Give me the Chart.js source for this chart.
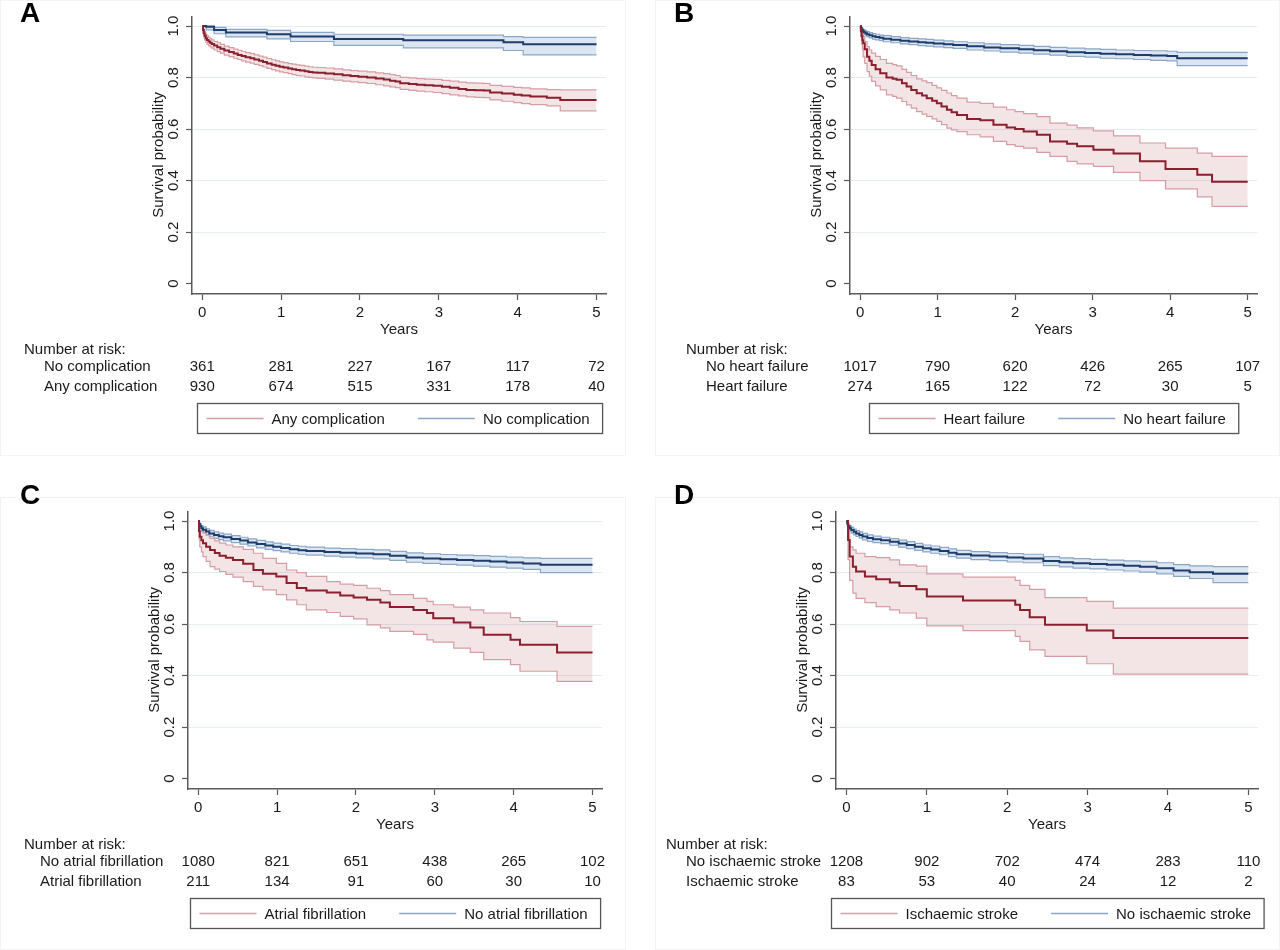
<!DOCTYPE html>
<html><head><meta charset="utf-8">
<script src="https://cdn.jsdelivr.net/npm/chart.js@4.4.0/dist/chart.umd.min.js"></script>
<style>
body{margin:0;background:#fff;width:1280px;height:950px;position:relative;overflow:hidden;font-family:"Liberation Sans",Arial,sans-serif}
.panel{position:absolute;width:640px;height:455px}
.frame{position:absolute;border:1px solid #f3f3f3;box-sizing:border-box}
.letter{position:absolute;font:bold 28px/28px "Liberation Sans",Arial,sans-serif;color:#000}
</style></head><body>
<div class="frame" style="left:0;top:0;width:626px;height:456px"></div>
<div class="frame" style="left:655px;top:0;width:625px;height:456px"></div>
<div class="frame" style="left:0;top:497px;width:626px;height:453px"></div>
<div class="frame" style="left:655px;top:497px;width:625px;height:453px"></div>
<div class="panel" style="left:0;top:0"><canvas id="cA"></canvas></div>
<div class="panel" style="left:640px;top:0"><canvas id="cB"></canvas></div>
<div class="panel" style="left:0;top:495px"><canvas id="cC"></canvas></div>
<div class="panel" style="left:640px;top:495px"><canvas id="cD"></canvas></div>
<div class="letter" style="left:20px;top:-1px">A</div>
<div class="letter" style="left:674px;top:-1px">B</div>
<div class="letter" style="left:20px;top:481px">C</div>
<div class="letter" style="left:674px;top:481px">D</div>
<script>
// ---------- shared ticks ----------
const years = [0, 1, 2, 3, 4, 5];
const yTicks = [0, 0.2, 0.4, 0.6, 0.8, 1.0];
const yTickLabels = ['0', '0.2', '0.4', '0.6', '0.8', '1.0'];

// ---------- Panel A: complications ----------
const A_none_t  = [0, 0.05, 0.15, 0.30, 0.82, 1.12, 1.67, 2.55, 3.82, 4.07, 5];
const A_none_s  = [1, 0.997, 0.985, 0.975, 0.968, 0.959, 0.950, 0.945, 0.937, 0.929, 0.929];
const A_none_hi = [1, 1.0, 0.995, 0.987, 0.983, 0.975, 0.968, 0.965, 0.959, 0.956, 0.956];
const A_none_lo = [1, 0.985, 0.970, 0.958, 0.950, 0.940, 0.925, 0.915, 0.905, 0.888, 0.888];
const A_any_t  = [0, 0.01, 0.02, 0.03, 0.045, 0.06, 0.08, 0.10, 0.12, 0.15,
                  0.19, 0.23, 0.28, 0.34, 0.40, 0.45, 0.50, 0.55, 0.61, 0.66,
                  0.72, 0.77, 0.82, 0.88, 0.93, 0.98, 1.03, 1.09, 1.14, 1.19,
                  1.24, 1.30, 1.35, 1.40, 1.46, 1.56, 1.67, 1.78, 1.88, 1.98,
                  2.09, 2.20, 2.30, 2.38, 2.45, 2.51, 2.62, 2.72, 2.82, 2.93,
                  3.04, 3.14, 3.25, 3.35, 3.46, 3.57, 3.65, 3.80, 3.95, 4.05,
                  4.16, 4.37, 4.54, 5];
const A_any_s  = [1, 0.985, 0.972, 0.962, 0.953, 0.946, 0.940, 0.935, 0.930, 0.924,
                  0.918, 0.912, 0.905, 0.899, 0.893, 0.888, 0.884, 0.879, 0.875, 0.870,
                  0.865, 0.860, 0.855, 0.850, 0.846, 0.842, 0.839, 0.835, 0.832, 0.829,
                  0.827, 0.824, 0.822, 0.820, 0.819, 0.816, 0.813, 0.809, 0.806, 0.803,
                  0.800, 0.796, 0.792, 0.788, 0.785, 0.778, 0.775, 0.772, 0.770, 0.768,
                  0.764, 0.760, 0.756, 0.752, 0.751, 0.750, 0.742, 0.738, 0.733, 0.730,
                  0.726, 0.722, 0.713, 0.713];
const A_any_hi = [1, 0.997, 0.987, 0.978, 0.969, 0.962, 0.956, 0.951, 0.946, 0.940,
                  0.935, 0.929, 0.922, 0.916, 0.910, 0.906, 0.902, 0.897, 0.893, 0.888,
                  0.883, 0.879, 0.874, 0.869, 0.865, 0.861, 0.858, 0.854, 0.852, 0.849,
                  0.847, 0.844, 0.842, 0.840, 0.839, 0.837, 0.834, 0.830, 0.827, 0.825,
                  0.822, 0.818, 0.815, 0.811, 0.808, 0.801, 0.799, 0.796, 0.794, 0.793,
                  0.789, 0.786, 0.782, 0.779, 0.778, 0.777, 0.770, 0.766, 0.762, 0.760,
                  0.756, 0.753, 0.752, 0.752];
const A_any_lo = [1, 0.973, 0.957, 0.946, 0.937, 0.930, 0.924, 0.919, 0.914, 0.907,
                  0.901, 0.895, 0.887, 0.881, 0.875, 0.870, 0.865, 0.860, 0.856, 0.851,
                  0.846, 0.841, 0.836, 0.831, 0.826, 0.822, 0.819, 0.815, 0.811, 0.808,
                  0.806, 0.803, 0.801, 0.799, 0.797, 0.794, 0.790, 0.786, 0.783, 0.780,
                  0.777, 0.772, 0.768, 0.764, 0.761, 0.754, 0.750, 0.747, 0.745, 0.742,
                  0.738, 0.733, 0.729, 0.725, 0.723, 0.722, 0.713, 0.708, 0.703, 0.699,
                  0.695, 0.690, 0.671, 0.671];
const A_risk_none = [361, 281, 227, 167, 117, 72];
const A_risk_any  = [930, 674, 515, 331, 178, 40];

// ---------- Panel B: heart failure ----------
const B_no_t  = [0, 0.01, 0.02, 0.035, 0.05, 0.07, 0.09, 0.12, 0.16, 0.2,
                 0.25, 0.3, 0.4, 0.52, 0.63, 0.75, 0.85, 0.95, 1.08, 1.2,
                 1.38, 1.6, 1.81, 2.05, 2.24, 2.45, 2.67, 2.9, 3.1, 3.3,
                 3.53, 3.75, 3.96, 4.09, 5];
const B_no_s  = [1, 0.992, 0.986, 0.980, 0.976, 0.972, 0.968, 0.964, 0.960, 0.957,
                 0.954, 0.951, 0.947, 0.943, 0.940, 0.937, 0.935, 0.932, 0.929, 0.926,
                 0.921, 0.917, 0.914, 0.910, 0.906, 0.902, 0.898, 0.895, 0.892, 0.890,
                 0.888, 0.886, 0.884, 0.875, 0.875];
const B_no_hi = [1, 0.997, 0.993, 0.988, 0.985, 0.981, 0.978, 0.974, 0.971, 0.968,
                 0.965, 0.963, 0.959, 0.955, 0.952, 0.950, 0.948, 0.945, 0.942, 0.939,
                 0.935, 0.931, 0.928, 0.925, 0.921, 0.917, 0.914, 0.911, 0.909, 0.907,
                 0.905, 0.904, 0.902, 0.898, 0.898];
const B_no_lo = [1, 0.987, 0.979, 0.972, 0.967, 0.963, 0.958, 0.954, 0.949, 0.946,
                 0.943, 0.939, 0.935, 0.931, 0.928, 0.924, 0.922, 0.919, 0.916, 0.913,
                 0.907, 0.903, 0.899, 0.895, 0.891, 0.887, 0.882, 0.879, 0.875, 0.873,
                 0.870, 0.867, 0.865, 0.846, 0.846];
const B_hf_t  = [0, 0.01, 0.02, 0.03, 0.04, 0.06, 0.09, 0.12, 0.15, 0.2,
                 0.26, 0.34, 0.42, 0.47, 0.54, 0.6, 0.66, 0.73, 0.8, 0.86,
                 0.93, 0.99, 1.05, 1.12, 1.18, 1.25, 1.38, 1.55, 1.72, 1.89,
                 2.0, 2.11, 2.28, 2.45, 2.67, 2.8, 3.01, 3.27, 3.61, 3.94,
                 4.35, 4.54, 5];
const B_hf_s  = [1, 0.98, 0.96, 0.945, 0.933, 0.91, 0.881, 0.865, 0.849, 0.832,
                 0.817, 0.80, 0.795, 0.791, 0.778, 0.765, 0.752, 0.739, 0.73, 0.72,
                 0.71, 0.70, 0.688, 0.675, 0.665, 0.655, 0.639, 0.634, 0.617, 0.606,
                 0.60, 0.591, 0.578, 0.552, 0.543, 0.533, 0.52, 0.505, 0.475, 0.445,
                 0.423, 0.396, 0.396];
const B_hf_hi = [1, 0.995, 0.985, 0.972, 0.96, 0.94, 0.92, 0.907, 0.895, 0.882,
                 0.87, 0.855, 0.85, 0.845, 0.832, 0.82, 0.808, 0.795, 0.787, 0.78,
                 0.77, 0.76, 0.75, 0.74, 0.73, 0.72, 0.705, 0.70, 0.685, 0.675,
                 0.668, 0.66, 0.648, 0.623, 0.615, 0.605, 0.593, 0.574, 0.546, 0.526,
                 0.507, 0.494, 0.494];
const B_hf_lo = [1, 0.962, 0.93, 0.91, 0.88, 0.855, 0.823, 0.805, 0.785, 0.768,
                 0.752, 0.733, 0.727, 0.72, 0.707, 0.694, 0.681, 0.668, 0.658, 0.649,
                 0.64, 0.63, 0.617, 0.604, 0.597, 0.59, 0.578, 0.57, 0.552, 0.54,
                 0.533, 0.526, 0.51, 0.494, 0.475, 0.465, 0.455, 0.432, 0.40, 0.368,
                 0.337, 0.30, 0.30];
const B_risk_no = [1017, 790, 620, 426, 265, 107];
const B_risk_hf = [274, 165, 122, 72, 30, 5];

// ---------- Panel C: atrial fibrillation ----------
const C_no_t  = [0, 0.01, 0.02, 0.04, 0.06, 0.1, 0.14, 0.2, 0.26, 0.32,
                 0.42, 0.53, 0.63, 0.74, 0.85, 0.95, 1.05, 1.16, 1.27, 1.37,
                 1.6, 1.8, 2.0, 2.22, 2.43, 2.64, 2.85, 3.07, 3.28, 3.49,
                 3.7, 3.91, 4.12, 4.34, 5];
const C_no_s  = [1, 0.988, 0.98, 0.972, 0.966, 0.959, 0.952, 0.946, 0.941, 0.937,
                 0.930, 0.924, 0.917, 0.911, 0.905, 0.90, 0.895, 0.89, 0.887, 0.884,
                 0.880, 0.877, 0.874, 0.871, 0.865, 0.858, 0.855, 0.852, 0.849, 0.846,
                 0.843, 0.839, 0.835, 0.830, 0.830];
const C_no_hi = [1, 0.994, 0.989, 0.982, 0.977, 0.970, 0.964, 0.958, 0.953, 0.949,
                 0.943, 0.937, 0.931, 0.925, 0.919, 0.914, 0.910, 0.905, 0.902, 0.899,
                 0.895, 0.893, 0.890, 0.888, 0.882, 0.876, 0.873, 0.870, 0.868, 0.866,
                 0.863, 0.860, 0.857, 0.855, 0.855];
const C_no_lo = [1, 0.981, 0.971, 0.961, 0.954, 0.947, 0.939, 0.933, 0.928, 0.923,
                 0.916, 0.910, 0.903, 0.896, 0.890, 0.885, 0.880, 0.875, 0.871, 0.868,
                 0.864, 0.860, 0.857, 0.853, 0.847, 0.840, 0.836, 0.832, 0.829, 0.825,
                 0.821, 0.817, 0.812, 0.800, 0.800];
const C_af_t  = [0, 0.01, 0.02, 0.04, 0.06, 0.1, 0.15, 0.21, 0.27, 0.35,
                 0.44, 0.57, 0.7, 0.82, 0.99, 1.12, 1.25, 1.37, 1.63, 1.8,
                 1.97, 2.14, 2.31, 2.43, 2.73, 2.9, 2.98, 3.24, 3.45, 3.62,
                 3.96, 4.08, 4.55, 5];
const C_af_s  = [1, 0.96, 0.939, 0.925, 0.914, 0.9, 0.888, 0.876, 0.865, 0.857,
                 0.849, 0.834, 0.81, 0.795, 0.785, 0.759, 0.74, 0.73, 0.723, 0.711,
                 0.703, 0.694, 0.684, 0.666, 0.655, 0.643, 0.623, 0.606, 0.587, 0.559,
                 0.539, 0.52, 0.49, 0.49];
const C_af_hi = [1, 0.988, 0.978, 0.968, 0.959, 0.945, 0.933, 0.923, 0.914, 0.907,
                 0.90, 0.89, 0.875, 0.855, 0.836, 0.81, 0.80, 0.785, 0.765, 0.755,
                 0.75, 0.739, 0.73, 0.714, 0.70, 0.688, 0.675, 0.666, 0.655, 0.643,
                 0.625, 0.61, 0.591, 0.591];
const C_af_lo = [1, 0.93, 0.90, 0.88, 0.862, 0.843, 0.823, 0.813, 0.804, 0.793,
                 0.782, 0.765, 0.746, 0.733, 0.714, 0.694, 0.675, 0.655, 0.645, 0.63,
                 0.62, 0.597, 0.585, 0.572, 0.56, 0.539, 0.53, 0.507, 0.49, 0.462,
                 0.443, 0.417, 0.378, 0.378];
const C_risk_no = [1080, 821, 651, 438, 265, 102];
const C_risk_af = [211, 134, 91, 60, 30, 10];

// ---------- Panel D: ischaemic stroke ----------
const D_no_t  = [0, 0.01, 0.02, 0.04, 0.06, 0.09, 0.12, 0.16, 0.2, 0.26,
                 0.33, 0.43, 0.54, 0.65, 0.75, 0.85, 0.95, 1.05, 1.16, 1.27,
                 1.37, 1.55, 1.78, 2.0, 2.2, 2.45, 2.65, 2.82, 3.03, 3.24,
                 3.45, 3.65, 3.86, 4.07, 4.27, 4.56, 5];
const D_no_s  = [1, 0.99, 0.98, 0.972, 0.965, 0.958, 0.952, 0.946, 0.94, 0.934,
                 0.929, 0.925, 0.92, 0.913, 0.907, 0.90, 0.894, 0.889, 0.884, 0.877,
                 0.871, 0.866, 0.862, 0.858, 0.855, 0.845, 0.840, 0.836, 0.833, 0.830,
                 0.826, 0.823, 0.817, 0.808, 0.801, 0.795, 0.795];
const D_no_hi = [1, 0.995, 0.988, 0.982, 0.976, 0.969, 0.963, 0.958, 0.952, 0.946,
                 0.941, 0.937, 0.932, 0.926, 0.920, 0.913, 0.907, 0.903, 0.898, 0.892,
                 0.886, 0.881, 0.877, 0.874, 0.871, 0.862, 0.857, 0.854, 0.851, 0.848,
                 0.845, 0.843, 0.838, 0.831, 0.826, 0.823, 0.823];
const D_no_lo = [1, 0.984, 0.972, 0.962, 0.953, 0.946, 0.940, 0.934, 0.927, 0.921,
                 0.916, 0.912, 0.906, 0.899, 0.893, 0.886, 0.880, 0.875, 0.869, 0.862,
                 0.856, 0.850, 0.846, 0.841, 0.838, 0.827, 0.822, 0.817, 0.814, 0.810,
                 0.806, 0.802, 0.795, 0.785, 0.777, 0.761, 0.761];
const D_is_t  = [0, 0.02, 0.04, 0.08, 0.12, 0.23, 0.37, 0.54, 0.66, 0.87, 1.0, 1.45, 2.1, 2.16, 2.28, 2.47, 2.99, 3.32, 5];
const D_is_s  = [1, 0.926, 0.862, 0.823, 0.804, 0.785, 0.774, 0.761, 0.748, 0.735, 0.707, 0.692, 0.675, 0.655, 0.627, 0.597, 0.575, 0.546, 0.546];
const D_is_hi = [1, 0.97, 0.90, 0.888, 0.875, 0.862, 0.858, 0.849, 0.83, 0.825, 0.795, 0.782, 0.77, 0.75, 0.735, 0.703, 0.688, 0.662, 0.662];
const D_is_lo = [1, 0.85, 0.77, 0.72, 0.70, 0.683, 0.668, 0.655, 0.643, 0.623, 0.593, 0.575, 0.552, 0.533, 0.50, 0.475, 0.446, 0.406, 0.406];
const D_risk_no = [1208, 902, 702, 474, 283, 110];
const D_risk_is = [83, 53, 40, 24, 12, 2];

// ---------- styles ----------
const FONT = '"Liberation Sans", Arial, Helvetica, sans-serif';
const TXT = '#1a1a1a';
const AXIS = '#5a5a5a';
const RED = '#8b1f2e', RED_CI = '#d59ea4', RED_FILL = 'rgba(196,120,128,0.20)';
const BLUE = '#1f3d6b', BLUE_CI = '#8ba7c5', BLUE_FILL = 'rgba(120,160,205,0.26)';

const pts = (t, v) => t.map((x, i) => ({ x: x, y: v[i] }));

const kmPlugin = {
  id: 'km',
  afterDraw(chart, args, o) {
    const ctx = chart.ctx, xs = chart.scales.x, ys = chart.scales.y;
    const axisX = chart.chartArea.left;
    ctx.save();
    ctx.fillStyle = TXT;
    ctx.font = '15px ' + FONT;
    ctx.textAlign = 'center';
    ctx.textBaseline = 'middle';
    yTicks.forEach((v, i) => {
      ctx.save();
      ctx.translate(axisX - 18, ys.getPixelForValue(v));
      ctx.rotate(-Math.PI / 2);
      ctx.fillText(yTickLabels[i], 0, 0);
      ctx.restore();
    });
    ctx.save();
    ctx.translate(axisX - 33, ys.getPixelForValue(0.5));
    ctx.rotate(-Math.PI / 2);
    ctx.fillText('Survival probability', 0, 0);
    ctx.restore();
    // risk table
    ctx.textAlign = 'left';
    ctx.fillText('Number at risk:', o.narX, 349.5);
    o.rows.forEach((r, ri) => {
      const y = 366.5 + ri * 20;
      ctx.textAlign = 'left';
      ctx.fillText(r.label, o.labelX, y);
      ctx.textAlign = 'center';
      r.values.forEach((v, i) => ctx.fillText(String(v), xs.getPixelForValue(years[i]), y));
    });
    // legend
    const w1 = ctx.measureText(o.legRed).width, w2 = ctx.measureText(o.legBlue).width;
    const padL = 9, samp = 57, gap = 8, colGap = 33, padR = 13;
    const W = padL + samp + gap + w1 + colGap + samp + gap + w2 + padR;
    const cx = (xs.getPixelForValue(0) + xs.getPixelForValue(5)) / 2;
    const bx = Math.round(cx - W / 2) + 0.5, by = 403.5, bh = 30;
    ctx.strokeStyle = '#555';
    ctx.lineWidth = 1.3;
    ctx.strokeRect(bx, by, W, bh);
    const ly = by + bh / 2;
    let x = bx + padL;
    ctx.lineWidth = 1.6;
    ctx.strokeStyle = RED_CI;
    ctx.beginPath(); ctx.moveTo(x, ly); ctx.lineTo(x + samp, ly); ctx.stroke();
    x += samp + gap;
    ctx.textAlign = 'left';
    ctx.fillText(o.legRed, x, ly + 1.5);
    x += w1 + colGap;
    ctx.strokeStyle = BLUE_CI;
    ctx.beginPath(); ctx.moveTo(x, ly); ctx.lineTo(x + samp, ly); ctx.stroke();
    x += samp + gap;
    ctx.fillText(o.legBlue, x, ly + 1.5);
    ctx.restore();
  }
};

function makeChart(id, p) {
  const ds = [
    { data: pts(p.red.t, p.red.s), borderColor: RED, borderWidth: 2, fill: false },
    { data: pts(p.blue.t, p.blue.s), borderColor: BLUE, borderWidth: 2, fill: false },
    { data: pts(p.red.t, p.red.hi), borderColor: RED_CI, borderWidth: 1.2, fill: false },
    { data: pts(p.red.t, p.red.lo), borderColor: RED_CI, borderWidth: 1.2, fill: '-1', backgroundColor: RED_FILL },
    { data: pts(p.blue.t, p.blue.hi), borderColor: BLUE_CI, borderWidth: 1.2, fill: false },
    { data: pts(p.blue.t, p.blue.lo), borderColor: BLUE_CI, borderWidth: 1.2, fill: '-1', backgroundColor: BLUE_FILL }
  ].map(d => Object.assign(d, { stepped: true, pointRadius: 0, tension: 0 }));
  return new Chart(document.getElementById(id), {
    type: 'line',
    data: { datasets: ds },
    options: {
      responsive: true, maintainAspectRatio: false, animation: false,
      events: [],
      layout: { padding: { left: p.axisX - 40, right: 640 - p.axisEnd, top: 17, bottom: 455 - 294 - 44 } },
      plugins: {
        legend: { display: false }, tooltip: { enabled: false },
        km: { narX: p.narX, labelX: p.labelX, rows: p.rows, legRed: p.legRed, legBlue: p.legBlue }
      },
      scales: {
        x: {
          type: 'linear', min: -0.13, max: 5.12,
          afterBuildTicks: s => { s.ticks = years.map(v => ({ value: v })); },
          afterFit: s => { s.height = 44; },
          border: { display: true, color: AXIS, width: 1.5 },
          grid: { drawOnChartArea: false, drawTicks: true, tickLength: 6, tickColor: AXIS, tickWidth: 1.2 },
          ticks: { color: TXT, font: { size: 15, family: FONT }, padding: 4, maxRotation: 0, autoSkip: false },
          title: { display: true, text: 'Years', color: TXT, font: { size: 15, family: FONT }, padding: { top: 0, bottom: -1 } }
        },
        y: {
          type: 'linear', min: -0.04, max: 1.035,
          afterBuildTicks: s => { s.ticks = yTicks.map(v => ({ value: v })); },
          afterFit: s => { s.width = 40; },
          border: { display: true, color: AXIS, width: 1.5 },
          grid: {
            color: c => (c.tick && c.tick.value === 0) ? 'rgba(0,0,0,0)' : '#e5edf0',
            lineWidth: 1, drawTicks: true, tickLength: 6, tickColor: AXIS, tickWidth: 1.2
          },
          ticks: { display: false }
        }
      }
    },
    plugins: [kmPlugin]
  });
}

makeChart('cA', {
  axisX: 192, axisEnd: 606, narX: 24, labelX: 44,
  red: { t: A_any_t, s: A_any_s, hi: A_any_hi, lo: A_any_lo },
  blue: { t: A_none_t, s: A_none_s, hi: A_none_hi, lo: A_none_lo },
  rows: [{ label: 'No complication', values: A_risk_none }, { label: 'Any complication', values: A_risk_any }],
  legRed: 'Any complication', legBlue: 'No complication'
});
makeChart('cB', {
  axisX: 210, axisEnd: 617, narX: 46, labelX: 66,
  red: { t: B_hf_t, s: B_hf_s, hi: B_hf_hi, lo: B_hf_lo },
  blue: { t: B_no_t, s: B_no_s, hi: B_no_hi, lo: B_no_lo },
  rows: [{ label: 'No heart failure', values: B_risk_no }, { label: 'Heart failure', values: B_risk_hf }],
  legRed: 'Heart failure', legBlue: 'No heart failure'
});
makeChart('cC', {
  axisX: 188, axisEnd: 602, narX: 24, labelX: 40,
  red: { t: C_af_t, s: C_af_s, hi: C_af_hi, lo: C_af_lo },
  blue: { t: C_no_t, s: C_no_s, hi: C_no_hi, lo: C_no_lo },
  rows: [{ label: 'No atrial fibrillation', values: C_risk_no }, { label: 'Atrial fibrillation', values: C_risk_af }],
  legRed: 'Atrial fibrillation', legBlue: 'No atrial fibrillation'
});
makeChart('cD', {
  axisX: 196, axisEnd: 618, narX: 26, labelX: 46,
  red: { t: D_is_t, s: D_is_s, hi: D_is_hi, lo: D_is_lo },
  blue: { t: D_no_t, s: D_no_s, hi: D_no_hi, lo: D_no_lo },
  rows: [{ label: 'No ischaemic stroke', values: D_risk_no }, { label: 'Ischaemic stroke', values: D_risk_is }],
  legRed: 'Ischaemic stroke', legBlue: 'No ischaemic stroke'
});
</script>
</body></html>
